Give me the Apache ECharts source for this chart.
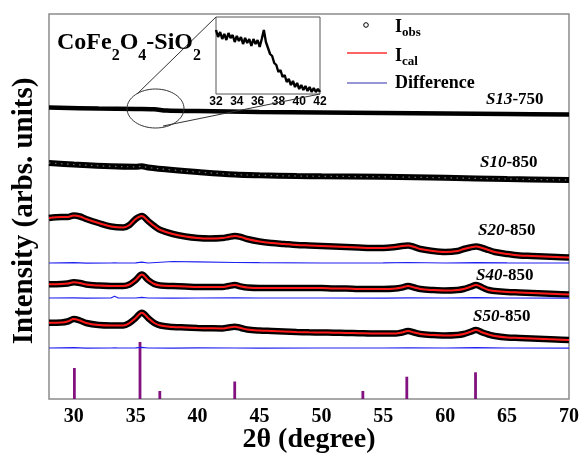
<!DOCTYPE html>
<html><head><meta charset="utf-8">
<script src="https://cdn.jsdelivr.net/npm/echarts@6/dist/echarts.min.js"></script>
<style>html,body{margin:0;padding:0;background:#fff}#c{width:581px;height:455px}</style>
</head><body><div id="c"></div>
<script>
// ---- data ----
const angles = [28,29,29.5,30,30.5,31,32,33,34,34.5,35,35.5,36,36.5,37,38,39,40,41,42,42.5,43,43.5,44,45,46,47,48,49,50,51,52,53,54,55,56,56.5,57,57.5,58,59,60,61,61.5,62,62.5,63,63.5,64,65,66,67,68,69,70];
const s20 = [181,182,182,183.5,182.5,180,176,172.5,171.5,174,180,183,178,173,169,165,162.5,161,160.5,161,162,163,162,160,157.5,156,155,154,153.5,153,152.5,152,151.5,151,151,152,153,153.5,152,150,148,147,148,150,151.5,152.5,151,149,147,145,143.5,143,142.5,142,141.5];
const s40 = [114.7,115,115.5,116.7,116,114.5,113.5,113,113,114.5,119,124.5,119,115,113.5,113,112.5,112,112,112,113,114,112.5,111.5,111,111,111,111,111,111,110.5,110.5,110,110,110,110.5,111.5,113,111.5,110,109,108.5,109,110,112,114,111.5,109,108,107,106.5,106,105.5,105,104.5];
const s50 = [76.3,76.5,77.5,80,78.5,76,74,73.5,73.5,76,81,86.3,81,76,73.5,72,71.5,71,70.7,70.5,71.5,72.3,71,69.5,68.5,68,67.5,67,66.7,66.5,66.3,66,65.8,65.5,65.5,65.5,66.5,68,66.5,65,64,63.5,64,65,67,69,66.5,64.5,63,61.5,61,60.5,60,59.5,59];
const s10Angles = [28,30,33,35,35.5,36,38,40,43,45,48,50,55,60,65,70];
const s10 = [236,234.5,232.7,232.2,232.7,231.5,229,227,224.5,223.7,223,222.7,222.2,221.2,220,219];
const s13Angles = [28,32,35,36.5,37.5,40,45,50,55,60,65,70];
const s13 = [291.5,290.5,290,289.7,288.5,288,287,286.5,286,285.5,285,284.5];
const diffAngles = [28,30,31,33,33.3,33.6,35,35.5,36,38,40,43,45,50,55,57,60,62.5,65,70];
const diffS20 = [136,136.3,135.8,136,136.1,136,136.2,136.8,136,137.5,137.2,136.5,136.3,136,136.2,136.5,136,136.4,136.2,136];
const diffS40 = [101,101.2,100.8,101,102.8,101,101,101.6,101,100.8,101,101.2,101,101,100.8,101.2,101,101.3,101,100.8];
const diffS50 = [51,51.4,50.8,51,51.1,51,51.2,51.6,51,50.8,51.1,51,50.9,51,51,51.2,51,51.3,51,50.9];
const refAngles = [30.05,35.35,36.95,43.0,53.35,56.9,62.45];
const refInt = [31,57,8,17.5,8,22.3,26.7];
const insetAngles = [32,32.2,32.4,32.6,32.8,33,33.2,33.4,33.6,33.8,34,34.2,34.4,34.6,34.8,35,35.2,35.4,35.6,35.8,36,36.2,36.4,36.6,36.8,37,37.2,37.4,37.6,37.8,38,38.2,38.4,38.6,38.8,39,39.2,39.4,39.6,39.8,40,40.2,40.4,40.6,40.8,41,41.2,41.4,41.6,41.8,42];
const insetInt = [64,57,62,55,60,54,61,56,59,52,58,53,57,50,56,51,55,48,55,50,54,47,55,64,52,46,40,38,31,29,22,24,17,19,12,15,9,13,7,11,5,9,4,8,3,7,2,6,2,5,2];
const xTicks = [30,35,40,45,50,55,60,65,70];
const insetTicks = [32,34,36,38,40,42];
const sampleLabels = [
  {s:'S13', t:'-750', x:486, y:100},
  {s:'S10', t:'-850', x:480, y:163},
  {s:'S20', t:'-850', x:478, y:231},
  {s:'S40', t:'-850', x:476, y:276},
  {s:'S50', t:'-850', x:473, y:317}
];

const zip = (xs, ys) => xs.map((x, i) => [x, ys[i]]);
const serif = 'Liberation Serif';
const OBS_W = 6.5;

function obs(name, xs, ys, w) {
  return {type:'line', name, data: zip(xs, ys), showSymbol:false, smooth:0.35,
    lineStyle:{color:'#000', width:w}, z:3, silent:true};
}
function speckle(name, xs, ys) {
  return {type:'line', name, data: zip(xs, ys), showSymbol:false, smooth:0.35,
    lineStyle:{color:'rgba(190,190,190,0.6)', width:1.2, type:[1.5,4.5]}, z:3, silent:true};
}
function calc(name, xs, ys) {
  return {type:'line', name, data: zip(xs, ys), showSymbol:false, smooth:0.35,
    lineStyle:{color:'#ff1a1a', width:2}, z:4, silent:true};
}
function diff(name, xs, ys) {
  return {type:'line', name, data: zip(xs, ys), showSymbol:false,
    lineStyle:{color:'#2020f0', width:1.2}, z:3, silent:true};
}

// text with subscripts, built from measured pieces
const mctx = document.createElement('canvas').getContext('2d');
function subText(x, yBase, ySub, parts, bSize, sSize) {
  const out = [];
  let cx = x;
  parts.forEach(p => {
    const size = p.sub ? sSize : bSize;
    mctx.font = 'bold ' + size + 'px "' + serif + '"';
    out.push({type:'text', x:cx, y:p.sub ? ySub : yBase, z:10, style:{
      text:p.t, fontFamily:serif, fontWeight:'bold', fontSize:size, fill:'#000', verticalAlign:'middle'}});
    cx += mctx.measureText(p.t).width;
  });
  return out;
}

const graphics = [
  {type:'ellipse', shape:{cx:155.5, cy:108.5, rx:28.5, ry:19.5}, style:{fill:'none', stroke:'#333', lineWidth:1}, z:10},
  {type:'line', shape:{x1:137, y1:94, x2:216, y2:17}, style:{stroke:'#333', lineWidth:1}, z:10},
  {type:'line', shape:{x1:163, y1:126, x2:320, y2:94}, style:{stroke:'#333', lineWidth:1}, z:10},
  {type:'circle', shape:{cx:366, cy:25, r:2.3}, style:{fill:'#fff', stroke:'#000', lineWidth:1}, z:10},
  {type:'line', shape:{x1:347, y1:53, x2:387, y2:53}, style:{stroke:'#ff3030', lineWidth:1.5}, z:10},
  {type:'line', shape:{x1:347, y1:83, x2:387, y2:83}, style:{stroke:'#3030b0', lineWidth:1.2}, z:10},
  {type:'text', x:395, y:83, z:10, style:{text:'Difference', fontFamily:serif, fontWeight:'bold', fontSize:18, fill:'#000', verticalAlign:'middle'}},
  {type:'text', x:25, y:211, rotation:Math.PI/2, z:10, style:{text:'Intensity (arbs. units)', fontFamily:serif, fontWeight:'bold', fontSize:29, fill:'#000', align:'center', verticalAlign:'middle'}},
  {type:'text', x:309, y:440, z:10, style:{text:'2θ (degree)', fontFamily:serif, fontWeight:'bold', fontSize:28, fill:'#000', align:'center', verticalAlign:'middle'}}
].concat(
  subText(57, 43, 55.5, [{t:'CoFe'},{t:'2',sub:1},{t:'O'},{t:'4',sub:1},{t:'-SiO'},{t:'2',sub:1}], 24, 16),
  subText(395, 27, 33, [{t:'I'},{t:'obs',sub:1}], 18, 13),
  subText(395, 56, 62, [{t:'I'},{t:'cal',sub:1}], 18, 13)
);
sampleLabels.forEach(l => graphics.push({type:'text', x:l.x, y:l.y, z:10, style:{
  text:'{i|' + l.s + '}{n|' + l.t + '}', verticalAlign:'middle',
  rich:{i:{fontFamily:serif, fontWeight:'bold', fontStyle:'italic', fontSize:17, fill:'#000'},
        n:{fontFamily:serif, fontWeight:'bold', fontSize:17, fill:'#000'}}}}));

const chart = echarts.init(document.getElementById('c'), null, {renderer:'canvas'});
chart.setOption({
  animation:false,
  backgroundColor:'#fff',
  grid:[
    {left:49, right:12, top:14, bottom:56, show:true, borderColor:'#8c8c8c', borderWidth:1.5, containLabel:false, outerBoundsMode:'none'},
    {left:216, top:17, width:104, height:77, show:true, borderColor:'#555', borderWidth:1, backgroundColor:'#fff', z:5, containLabel:false, outerBoundsMode:'none'}
  ],
  xAxis:[
    {type:'value', gridIndex:0, min:28, max:70,
     axisLine:{show:false}, axisTick:{show:false}, splitLine:{show:false},
     axisLabel:{customValues:xTicks, fontFamily:serif, fontWeight:'bold', fontSize:20, color:'#000', margin:8}},
    {type:'value', gridIndex:1, min:32, max:42,
     axisLine:{show:false}, axisTick:{show:false}, splitLine:{show:false},
     axisLabel:{customValues:insetTicks, fontFamily:'Liberation Sans', fontWeight:'bold', fontSize:12, color:'#000', margin:2}}
  ],
  yAxis:[
    {type:'value', gridIndex:0, min:0, max:385,
     axisLine:{show:false}, axisTick:{show:false}, axisLabel:{show:false}, splitLine:{show:false}},
    {type:'value', gridIndex:1, min:0, max:77,
     axisLine:{show:false}, axisTick:{show:false}, axisLabel:{show:false}, splitLine:{show:false}}
  ],
  graphic: graphics,
  series:[
    obs('S13 obs', s13Angles, s13, 4.5),
    obs('S10 obs', s10Angles, s10, 6), speckle('S10 speckle', s10Angles, s10),
    obs('S20 obs', angles, s20, OBS_W), calc('S20 cal', angles, s20), diff('S20 diff', diffAngles, diffS20),
    obs('S40 obs', angles, s40, OBS_W), calc('S40 cal', angles, s40), diff('S40 diff', diffAngles, diffS40),
    obs('S50 obs', angles, s50, OBS_W), calc('S50 cal', angles, s50), diff('S50 diff', diffAngles, diffS50),
    {type:'bar', name:'CoFe2O4 ref', data: zip(refAngles, refInt), barWidth:2.8,
     itemStyle:{color:'#82127f'}, silent:true},
    {type:'line', name:'inset', xAxisIndex:1, yAxisIndex:1, data: zip(insetAngles, insetInt),
     showSymbol:false, lineStyle:{color:'#000', width:2.4}, z:6, silent:true}
  ]
});
</script></body></html>
